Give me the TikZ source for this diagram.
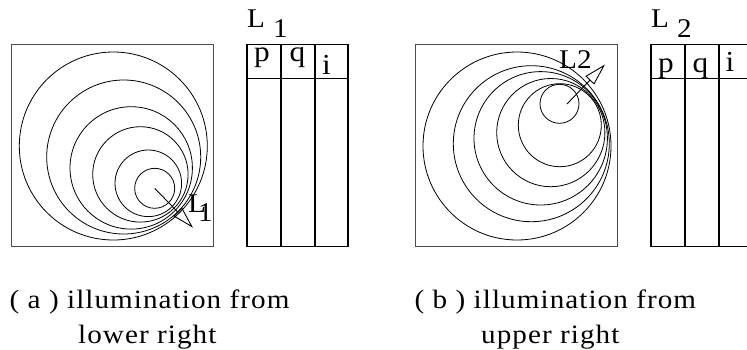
\documentclass[tikz,border=0pt]{standalone}
\usepackage{fontspec}
\setmainfont[FakeStretch=1.08]{Liberation Serif}
\newfontfamily\capfont[FakeStretch=1.1,LetterSpace=4]{Liberation Serif}
\usetikzlibrary{arrows.meta}

\tikzset{
  frame/.style={draw=black!70,line width=0.8pt},
  ring/.style={line width=0.8pt},
  grid/.style={line width=1.1pt},
  ray/.style={line width=0.9pt,-{Triangle[open,length=22pt,width=12pt,line width=0.9pt]}},
  lab/.style={inner sep=0pt,anchor=base west,font=\fontsize{27}{27}\selectfont},
  tabname/.style={inner sep=0pt,anchor=base west,font=\fontsize{27}{27}\selectfont},
  hd/.style={inner sep=0pt,anchor=base,font=\fontsize{29}{29}\selectfont},
  captext/.style={inner sep=0pt,anchor=base west,font=\capfont\fontsize{26.5}{26.5}\selectfont}
}

\begin{document}
\begin{tikzpicture}[x=1pt,y=-1pt]
  \useasboundingbox (0,0) rectangle (747,349);
  \clip (0,0) rectangle (747,349);
  % (a) light from lower right
  \draw[frame] (11,44.3) rectangle (213,246.7);
  \foreach \cx/\cy/\r in {113.3/146/94, 123.7/157/77, 131.2/167.9/61.2, 140.4/174.4/47.7, 148.3/183.3/33.3, 154.7/188.3/20}
    \draw[ring] (\cx,\cy) circle (\r);
  \coordinate (srcA) at (154.7,188.3);
  \coordinate (tipA) at (193,227.7);
  \draw[ray] (srcA) -- (tipA);
  \node[lab] (litA) at (188,212.5) {L\kern-8pt\raisebox{-8.5pt}{1}};
  % (b) light from upper right
  \draw[frame] (415,44.3) rectangle (617,246.7);
  \foreach \cx/\cy/\r in {517/146/94, 531.3/143.7/78, 540.7/138.3/66.7, 550.8/132.6/54.1, 559.8/125.2/41.5, 559.5/103.8/19.5}
    \draw[ring] (\cx,\cy) circle (\r);
  \coordinate (srcB) at (567,104);
  \coordinate (tipB) at (605,64.5);
  \draw[ray] (srcB) -- (tipB);
  \node[lab] (litB) at (559,68.3) {L2};
  % tables
  \foreach \tx/\nm in {247/1, 651/2}{
    \draw[grid] (\tx,44.3) rectangle ++(101,202.4);
    \draw[grid] (\tx,78.3) -- ++(101,0);
    \foreach \dx in {34,68}
      \draw[grid] (\tx+\dx,44.3) -- ++(0,202.4);
    \node[tabname] (tab\nm) at (\tx,27.5) {L\hspace{8.2pt}\raisebox{-9.5pt}{\nm}};
  }
  \node[hd] (pA) at (262,61.5) {p};
  \node[hd] (qA) at (297.5,61.5) {q};
  \node[hd] (iA) at (326.5,74) {i};
  \node[hd] (pB) at (666,72) {p};
  \node[hd] (qB) at (700.5,72) {q};
  \node[hd] (iB) at (730,71) {i};
  % captions
  \node[captext] (capA1) at (9.5,308.5) {( a ) illumination from};
  \node[captext] (capA2) at (78,343.5) {lower right};
  \node[captext] (capB1) at (414.5,308.5) {( b ) illumination from};
  \node[captext] (capB2) at (481,343.5) {upper right};
\end{tikzpicture}
\end{document}
